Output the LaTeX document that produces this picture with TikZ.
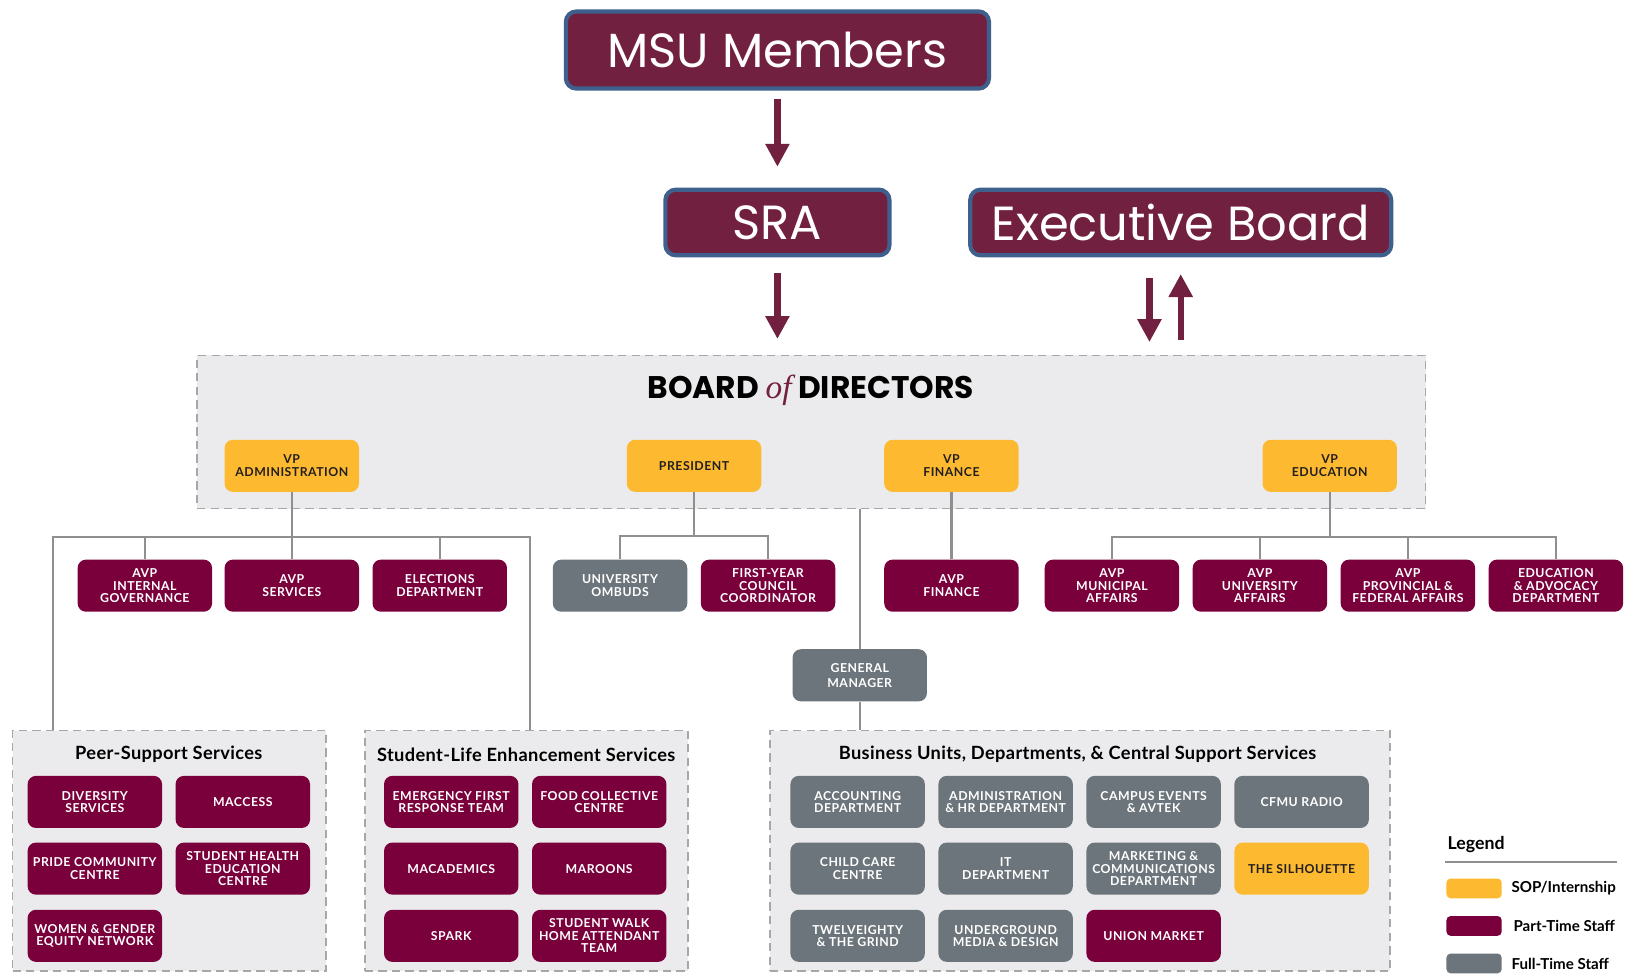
\documentclass[tikz,border=0pt]{standalone}
\usepackage{fontspec}
\setmainfont{Lato}
\newfontfamily\headfont{Poppins}
\newfontfamily\ofont{Liberation Serif}
\newfontfamily\unitfont[LetterSpace=4]{Lato}
\newfontfamily\titlefont[LetterSpace=2]{Lato}
\usetikzlibrary{arrows.meta,positioning}
\definecolor{wine}{HTML}{722040}
\definecolor{frame}{HTML}{3F5F8C}
\definecolor{maroon}{HTML}{7A003C}
\definecolor{slate}{HTML}{6C757B}
\definecolor{gold}{HTML}{FDBA30}
\definecolor{ink}{HTML}{231F20}
\definecolor{panel}{HTML}{EBEBED}
\definecolor{dashgray}{HTML}{A7A7A7}
\definecolor{wire}{HTML}{8F8F8F}

\begin{document}
\begin{tikzpicture}
[x=1pt,y=-1pt,
unit/.style={rounded corners=8pt,minimum width=129pt,minimum height=50pt,inner sep=1pt,align=center,text=white,font=\unitfont\bfseries\fontsize{11.8}{12}\selectfont},
pts/.style={unit,fill=maroon},
fts/.style={unit,fill=slate},
sop/.style={unit,fill=gold,text=ink},
topbox/.style={draw=frame,line width=4pt,fill=wine,rounded corners=10pt,text=white,font=\headfont\fontsize{46}{50}\selectfont},
group/.style={draw=dashgray,fill=panel,dash pattern=on 8pt off 5pt,line width=1.5pt,inner sep=0pt},
grouptitle/.style={font=\titlefont\bfseries\fontsize{17.5}{19}\selectfont},
link/.style={draw=wire,line width=2pt},
bigarrow/.style={draw=wine,line width=6pt,-{Triangle[width=22pt,length=22pt]}},
swatch/.style={rounded corners=4pt,minimum width=53pt,minimum height=19pt,inner sep=0pt},
keytext/.style={inner sep=0pt,font=\bfseries\fontsize{14.5}{15}\selectfont}]
\useasboundingbox (0,0) rectangle (1567,940);

% top of the chart
\node[topbox,minimum width=406pt,minimum height=74pt] (msu) at (746,48) {MSU Members};
\node[topbox,minimum width=215pt,minimum height=63pt] (sra) at (746,213.5) {SRA};
\node[topbox,minimum width=404pt,minimum height=63pt] (eb) at (1133,213.5) {Executive Board};

\node[group,minimum width=1179pt,minimum height=147pt] (bod) at (778.5,414.5) {};
\node[font=\headfont\bfseries\fontsize{30}{31}\selectfont] (bodtitle) at (778,375) {BOARD {\ofont\itshape\mdseries\fontsize{32}{32}\selectfont\color{wine}of} DIRECTORS};

\draw[bigarrow,shorten <=8pt,shorten >=20pt] (msu) -- (sra);
\draw[bigarrow,shorten <=15pt,shorten >=15pt] (sra) -- (sra |- bod.north);
\draw[bigarrow,shorten <=20pt,shorten >=12pt] ([xshift=-30pt]eb.south) -- ([xshift=-30pt]eb.south |- bod.north);
\draw[bigarrow,shorten <=14pt,shorten >=16pt] (eb.south |- bod.north) -- (eb);

% board
\node[sop] (vpadm) at (280,447) {VP\\ADMINISTRATION};
\node[sop] (pres) at (666,447) {PRESIDENT};
\node[sop] (vpfin) at (913,447) {VP\\FINANCE};
\node[sop] (vpedu) at (1276,447) {VP\\EDUCATION};

\node[pts] (avpig) at (139,562) {AVP\\INTERNAL\\GOVERNANCE};
\node[pts] (avpsv) at (280,562) {AVP\\SERVICES};
\node[pts] (elect) at (422,562) {ELECTIONS\\DEPARTMENT};
\node[fts] (ombud) at (595,562) {UNIVERSITY\\OMBUDS};
\node[pts] (firsty) at (737,562) {FIRST-YEAR\\COUNCIL\\COORDINATOR};
\node[pts] (avpfin) at (913,562) {AVP\\FINANCE};
\node[pts] (avpmun) at (1067,562) {AVP\\MUNICIPAL\\AFFAIRS};
\node[pts] (avpuni) at (1209,562) {AVP\\UNIVERSITY\\AFFAIRS};
\node[pts] (avpprov) at (1351,562) {AVP\\PROVINCIAL \&\\FEDERAL AFFAIRS};
\node[pts] (eduadv) at (1493,562) {EDUCATION\\\& ADVOCACY\\DEPARTMENT};

\node[fts,font=\unitfont\bfseries\fontsize{11.8}{14}\selectfont] (gm) at (825,648) {GENERAL\\MANAGER};

% service groups
\node[group,minimum width=301pt,minimum height=231pt] (peer) at (162.5,816.5) {};
\node[group,minimum width=310pt,minimum height=231pt] (stud) at (505,816.5) {};
\node[group,minimum width=595pt,minimum height=231pt] (busi) at (1036.5,816.5) {};

\node[grouptitle] (peertitle) at (162,724) {Peer-Support Services};
\node[grouptitle] (studtitle) at (505,724) {Student-Life Enhancement Services};
\node[grouptitle] (busititle) at (1034,724) {Business Units, Departments, \& Central Support Services};

\node[pts] (divers) at (91,769.5) {DIVERSITY\\SERVICES};
\node[pts] (maccess) at (233,769.5) {MACCESS};
\node[pts] (pride) at (91,833.5) {PRIDE COMMUNITY\\CENTRE};
\node[pts] (shec) at (233,833.5) {STUDENT HEALTH\\EDUCATION\\CENTRE};
\node[pts] (wgen) at (91,898) {WOMEN \& GENDER\\EQUITY NETWORK};

\node[pts] (efrt) at (433,769.5) {EMERGENCY FIRST\\RESPONSE TEAM};
\node[pts] (food) at (575,769.5) {FOOD COLLECTIVE\\CENTRE};
\node[pts] (macad) at (433,833.5) {MACADEMICS};
\node[pts] (maroons) at (575,833.5) {MAROONS};
\node[pts] (spark) at (433,898) {SPARK};
\node[pts] (swhat) at (575,898) {STUDENT WALK\\HOME ATTENDANT\\TEAM};

\node[fts] (acct) at (823,769.5) {ACCOUNTING\\DEPARTMENT};
\node[fts] (adhr) at (965,769.5) {ADMINISTRATION\\\& HR DEPARTMENT};
\node[fts] (campus) at (1107,769.5) {CAMPUS EVENTS\\\& AVTEK};
\node[fts] (cfmu) at (1249,769.5) {CFMU RADIO};
\node[fts] (ccc) at (823,833.5) {CHILD CARE\\CENTRE};
\node[fts] (itdep) at (965,833.5) {IT\\DEPARTMENT};
\node[fts] (mcd) at (1107,833.5) {MARKETING \&\\COMMUNICATIONS\\DEPARTMENT};
\node[sop] (sil) at (1249,833.5) {THE SILHOUETTE};
\node[fts] (twelve) at (823,898) {TWELVEIGHTY\\\& THE GRIND};
\node[fts] (under) at (965,898) {UNDERGROUND\\MEDIA \& DESIGN};
\node[pts] (union) at (1107,898) {UNION MARKET};

% connectors
\coordinate (admL) at (51,515);
\coordinate (admR) at (509,515);
\draw[link] (vpadm) -- (avpsv);
\draw[link] (peer.north -| admL) -- (admL) -- (admR) -- (stud.north -| admR);
\draw[link] (avpig) -- (avpig |- admL);
\draw[link] (elect) -- (elect |- admL);

\coordinate (presL) at (595,514);
\draw[link] (pres) -- (pres |- presL);
\draw[link] (ombud) -- (ombud |- presL) -- (firsty |- presL) -- (firsty);

\draw[link] (vpfin) -- (avpfin);

\draw[link] (gm.north |- bod.south) -- (gm);
\draw[link] (gm) -- (gm |- busi.north);

\coordinate (eduL) at (1067,515);
\draw[link] (vpedu) -- (vpedu |- eduL);
\draw[link] (avpmun) -- (avpmun |- eduL) -- (eduadv |- eduL) -- (eduadv);
\draw[link] (avpuni) -- (avpuni |- eduL);
\draw[link] (avpprov) -- (avpprov |- eduL);

% legend
\node[anchor=west,inner sep=0pt,font=\bfseries\fontsize{17}{18}\selectfont] (legend) at (1389,810) {Legend};
\coordinate (legrule) at (1387,827);
\draw[wire,line width=2pt] (legrule) -- ++(165,0);
\node[swatch,fill=gold] (keysop) at (1414.5,852.5) {};
\node[swatch,fill=maroon] (keypts) at (1414.5,888.5) {};
\node[swatch,fill=slate] (keyfts) at (1414.5,924.5) {};
\node[keytext,right=9pt of keysop] (keysoptext) {SOP/Internship};
\node[keytext,right=11pt of keypts] (keyptstext) {Part-Time Staff};
\node[keytext,right=9pt of keyfts] (keyftstext) {Full-Time Staff};
\end{tikzpicture}
\end{document}
